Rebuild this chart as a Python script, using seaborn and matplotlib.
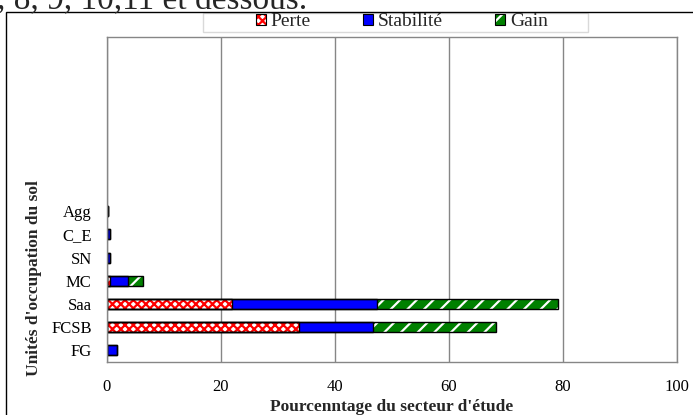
import matplotlib.pyplot as plt
import matplotlib.patches as mpatches
import seaborn as sns
import pandas as pd

# unités d'occupation du sol (de haut en bas)
categories = ['Agg', 'C_E', 'SN', 'MC', 'Saa', 'FCSB', 'FG']
perte = [0.1, 0.0, 0.0, 0.5, 22.0, 33.6, 0.0]
stabilite = [0.1, 0.5, 0.6, 3.1, 25.4, 13.0, 1.8]
gain = [0.0, 0.0, 0.0, 2.7, 31.7, 21.6, 0.0]
xticks = [0, 20, 40, 60, 80, 100]

df = pd.DataFrame({'unite': categories, 'Perte': perte,
                   'Stabilite': stabilite, 'Gain': gain})
df['c1'] = df['Perte']
df['c2'] = df['Perte'] + df['Stabilite']
df['c3'] = df['c2'] + df['Gain']

sns.set_style('white')
plt.rcParams['font.family'] = ['Liberation Serif', 'DejaVu Serif']
plt.rcParams['hatch.linewidth'] = 1.6

fig = plt.figure(figsize=(6.93, 4.15), dpi=100)
ax = fig.add_axes([0.1544, 0.1277, 0.8225, 0.7831])

# cumulative bars drawn from the largest to the smallest
sns.barplot(data=df, x='c3', y='unite', order=categories, orient='h',
            color='#008000', saturation=1, edgecolor='white', hatch='//',
            linewidth=0, width=0.43, ax=ax)
sns.barplot(data=df, x='c2', y='unite', order=categories, orient='h',
            color='#0000ff', saturation=1, linewidth=0, width=0.43, ax=ax)
sns.barplot(data=df, x='c1', y='unite', order=categories, orient='h',
            color='white', saturation=1, edgecolor='#ff0000', hatch='xxxx',
            linewidth=0, width=0.43, ax=ax)
for col in ['c3', 'c2', 'c1']:
    sns.barplot(data=df, x=col, y='unite', order=categories, orient='h',
                fill=False, edgecolor='black', linewidth=1.0, width=0.43, ax=ax)

ax.set_xlim(0, 100)
ax.set_ylim(6.5, -7.5)
ax.set_xticks(xticks)
ax.set_xticklabels([str(t) for t in xticks])
ax.tick_params(axis='both', length=0, labelsize=12, colors='black')
ax.tick_params(axis='x', pad=12)
ax.tick_params(axis='y', pad=11)
ax.grid(axis='x', color='#868686', linewidth=1)
ax.grid(axis='y', visible=False)
ax.set_axisbelow(True)
for s in ax.spines.values():
    s.set_color('#868686')
    s.set_linewidth(1)

ax.set_xlabel("Pourcenntage du secteur d'étude", fontsize=12.5, fontweight='bold', labelpad=3)
ax.set_ylabel("Unités d'occupation du sol", fontsize=12.5, fontweight='bold')
ax.yaxis.set_label_coords(-0.114, 0.258)

# legend: hatched fill + black outline overlaid in each handle
fills = [
    mpatches.Patch(facecolor='white', edgecolor='#ff0000', hatch='xxxx', linewidth=0),
    mpatches.Patch(facecolor='#0000ff', edgecolor='#0000ff', linewidth=0),
    mpatches.Patch(facecolor='#008000', edgecolor='white', hatch='//', linewidth=0),
]
outlines = [mpatches.Patch(facecolor='none', edgecolor='black', linewidth=0.8) for _ in fills]
handles = list(zip(fills, outlines))
labels = ['Perte', 'Stabilité', 'Gain']
fig.legend(handles=handles, labels=labels, loc='center',
           bbox_to_anchor=(402 / 693, 1 - 22 / 415),
           ncol=3, frameon=False, fontsize=14, handlelength=0.5, handleheight=0.5,
           handletextpad=0.25, columnspacing=2.7, borderpad=0)
fig.patches.append(mpatches.Rectangle((203 / 693, 1 - 32 / 415), 385 / 693, 19 / 415,
                                      transform=fig.transFigure, fill=False,
                                      edgecolor='#d9d9d9', linewidth=1))

# outer chart frame
fig.patches.append(mpatches.Rectangle((6 / 693, -0.02), 1.0, 1 - 12 / 415 + 0.02,
                                      transform=fig.transFigure, fill=False,
                                      edgecolor='black', linewidth=1))

# cropped document text above the chart
fig.text(-0.004, 1 - 8 / 415, ', 8, 9, 10,11 et dessous.', fontsize=24,
         va='baseline', ha='left')

fig.savefig('out.png', dpi=100)
